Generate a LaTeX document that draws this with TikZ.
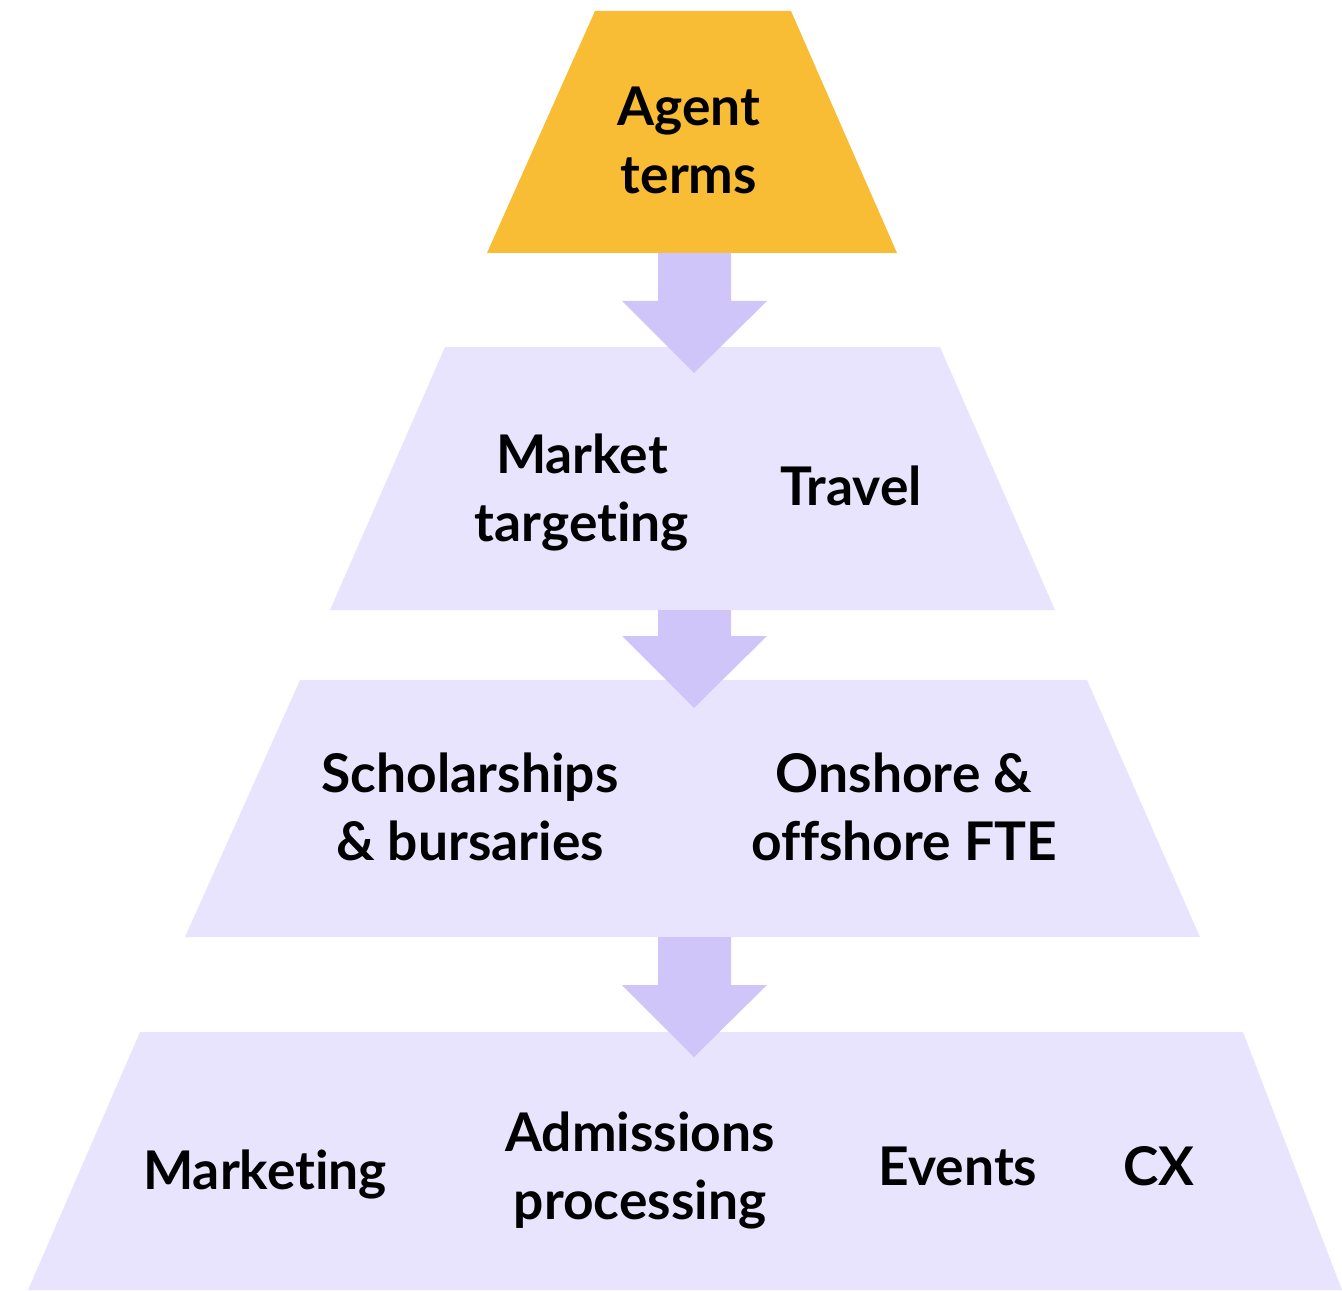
\documentclass[tikz,border=0pt]{standalone}
\usepackage{fontspec}
\setmainfont{Lato}[Ligatures=NoCommon]
\definecolor{gold}{HTML}{F9BC35}
\definecolor{lilac}{HTML}{E9E4FD}
\definecolor{arrowlilac}{HTML}{D0C5F9}
\begin{document}
\begin{tikzpicture}[x=0.75pt,y=-0.75pt,
  tier/.style={fill=lilac,draw=none},
  toptier/.style={fill=gold,draw=none},
  downarrow/.style={fill=arrowlilac,draw=none},
  label/.style={font=\fontsize{40}{51}\selectfont\bfseries,align=center,inner sep=0pt,text=black}]
\useasboundingbox (0,0) rectangle (1342,1291);

% pyramid tiers
\path[toptier] (595,11) -- (791,11) -- (897,253) -- (487,253) -- cycle;
\path[tier] (445,347) -- (940,347) -- (1055,610) -- (330,610) -- cycle;
\path[tier] (300,680) -- (1087,680) -- (1200,937) -- (185,937) -- cycle;
\path[tier] (140,1032) -- (1243,1032) -- (1342,1290) -- (28,1290) -- cycle;

% block arrows between tiers: top of shaft, start of head, tip
\foreach \t/\h/\p in {253/301/373, 610/636/708, 937/985/1057}
  \path[downarrow] (658,\t) -- (731,\t) -- (731,\h) -- (767,\h) -- (694,\p)
    -- (622,\h) -- (658,\h) -- cycle;

% labels
\node[label] (agent) at (689,140) {Agent\\terms};
\node[label] (market) at (582,492) {Market\\targeting};
\node[label] (travel) at (851,486) {Travel};
\node[label] (schol) at (470,807) {Scholarships\\\& bursaries};
\node[label] (fte) at (904,807) {Onshore \&\\offshore FTE};
\node[label] (mkt) at (265,1174) {Marketing};
\node[label] (adm) at (640,1170) {Admissions\\processing};
\node[label] (events) at (958,1166) {Events};
\node[label] (cx) at (1159,1166) {CX};
\end{tikzpicture}
\end{document}
